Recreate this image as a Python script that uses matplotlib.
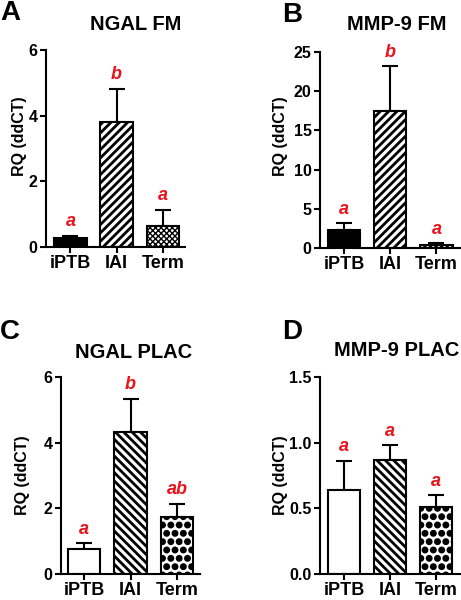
import matplotlib
matplotlib.use('Agg')
import matplotlib.pyplot as plt
import matplotlib.hatch

plt.rcParams['font.family'] = ['Liberation Sans', 'DejaVu Sans']
plt.rcParams['font.weight'] = 'bold'
# 点状填充的点大一些
matplotlib.hatch.SmallFilledCircles.size = 0.33

# 数据
groups = ['iPTB', 'IAI', 'Term']

ngal_fm = [0.26, 3.82, 0.63]
ngal_fm_err = [0.09, 1.0, 0.5]
ngal_fm_sig = ['a', 'b', 'a']

mmp9_fm = [2.25, 17.5, 0.42]
mmp9_fm_err = [0.9, 5.7, 0.18]
mmp9_fm_sig = ['a', 'b', 'a']

ngal_plac = [0.75, 4.31, 1.75]
ngal_plac_err = [0.19, 1.03, 0.39]
ngal_plac_sig = ['a', 'b', 'ab']

mmp9_plac = [0.64, 0.87, 0.51]
mmp9_plac_err = [0.22, 0.11, 0.09]
mmp9_plac_sig = ['a', 'a', 'a']

fig = plt.figure(figsize=(4.61, 6.0), dpi=100)
W, H = 461.0, 600.0


def rect(x0, x1, ytop, ybot):
    return [x0 / W, 1 - ybot / H, (x1 - x0) / W, (ybot - ytop) / H]


def panel(rect, vals, errs, sig, title, letter, ylim, yticks, ylabels,
          xlim, fills, hatches, hatch_lws, title_xy, letter_xy, ylab_xy):
    ax = fig.add_axes(rect)
    for i in range(3):
        plt.rcParams['hatch.linewidth'] = hatch_lws[i]
        ax.bar(i, vals[i], width=0.7, color=fills[i], edgecolor='black',
               linewidth=1.5, hatch=hatches[i], zorder=2)
        ax.errorbar(i, vals[i], yerr=[[0], [errs[i]]], color='black',
                    elinewidth=1.5, capsize=6, capthick=1.5, zorder=1)
        ax.annotate(sig[i], (i, vals[i] + errs[i]), xytext=(0, 4),
                    textcoords='offset points', ha='center', va='bottom',
                    color='#e8141c', fontsize=13, fontweight='bold',
                    fontstyle='italic')
    ax.set_xlim(xlim)
    ax.set_ylim(ylim)
    ax.set_yticks(yticks)
    ax.set_yticklabels(ylabels, fontsize=11.5, fontweight='bold')
    ax.set_xticks(range(3))
    ax.set_xticklabels(groups, fontsize=13, fontweight='bold')
    ax.set_ylabel('RQ (ddCT)', fontsize=11.5, fontweight='bold')
    ax.yaxis.set_label_coords(ylab_xy[0], ylab_xy[1])
    for s in ['top', 'right']:
        ax.spines[s].set_visible(False)
    for s in ['left', 'bottom']:
        ax.spines[s].set_linewidth(1.5)
    ax.tick_params(width=1.5, length=4, pad=2)
    fig.text(title_xy[0], title_xy[1], title, ha='center', va='center',
             fontsize=14.5, fontweight='bold')
    fig.text(letter_xy[0], letter_xy[1], letter, ha='left', va='center',
             fontsize=20, fontweight='bold')
    return ax


panel(rect(46, 185, 50, 247), ngal_fm, ngal_fm_err, ngal_fm_sig,
      'NGAL FM', 'A', (0, 6), [0, 2, 4, 6], ['0', '2', '4', '6'],
      (-0.53, 2.48), ['black', 'white', 'white'], [None, '////', 'xxxxxx'],
      [1.0, 2.0, 1.0], (136 / W, 1 - 25 / H), (0.0, 1 - 13 / H),
      (-0.135, 0.56))

panel(rect(320, 461, 52, 248), mmp9_fm, mmp9_fm_err, mmp9_fm_sig,
      'MMP-9 FM', 'B', (0, 25), [0, 5, 10, 15, 20, 25],
      ['0', '5', '10', '15', '20', '25'],
      (-0.52, 2.53), ['black', 'white', 'white'], [None, '////', 'xxxxxx'],
      [1.0, 2.0, 1.0], (397 / W, 1 - 24 / H), (282 / W, 1 - 15 / H),
      (-0.23, 0.57))

panel(rect(61, 200, 377, 574), ngal_plac, ngal_plac_err, ngal_plac_sig,
      'NGAL PLAC', 'C', (0, 6), [0, 2, 4, 6], ['0', '2', '4', '6'],
      (-0.495, 2.49), ['white', 'white', 'white'], [None, '\\\\\\\\', '..'],
      [1.0, 2.0, 1.0], (134 / W, 1 - 353 / H), (0.0, 1 - 332 / H),
      (-0.22, 0.5))

panel(rect(320, 461, 377, 574), mmp9_plac, mmp9_plac_err, mmp9_plac_sig,
      'MMP-9 PLAC', 'D', (0, 1.5), [0, 0.5, 1.0, 1.5],
      ['0.0', '0.5', '1.0', '1.5'],
      (-0.52, 2.54), ['white', 'white', 'white'], [None, '\\\\\\\\', '..'],
      [1.0, 2.0, 1.0], (397 / W, 1 - 350 / H), (282 / W, 1 - 332 / H),
      (-0.23, 0.5))

plt.savefig('out.png', dpi=100)
